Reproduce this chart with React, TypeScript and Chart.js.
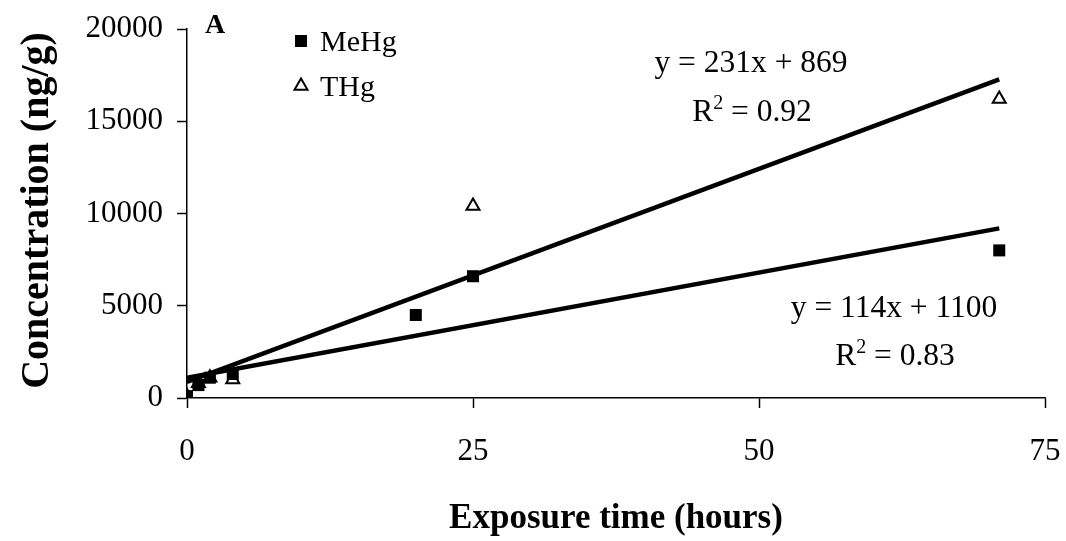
import { useEffect, useRef } from "react";
import { Chart, registerables } from "chart.js";

Chart.register(...registerables);

// Measured mercury concentrations (ng/g) against exposure time (hours)
const hoursMeHg = [0, 1, 2, 4, 20, 25, 71];
const concMeHg = [100, 700, 1100, 1300, 4500, 6600, 8000];
const hoursTHg = [0, 1, 2, 4, 25, 71];
const concTHg = [100, 800, 1100, 1000, 10400, 16200];

// Linear trendlines: y = slope * x + intercept, drawn over the measured span
const trendSlopes = [231, 114];
const trendIntercepts = [869, 1100];
const trendR2 = ["0.92", "0.83"];
const trendSpan = [0, 71];

const xTickValues = [0, 25, 50, 75];
const yTickValues = [0, 5000, 10000, 15000, 20000];

const SERIF = "'Liberation Serif', 'Times New Roman', serif";

function drawTriangle(ctx: CanvasRenderingContext2D, x: number, y: number, r: number) {
  ctx.beginPath();
  ctx.moveTo(x, y - r);
  ctx.lineTo(x + r * 0.866, y + r * 0.5);
  ctx.lineTo(x - r * 0.866, y + r * 0.5);
  ctx.closePath();
  ctx.fillStyle = "#fff";
  ctx.fill();
  ctx.lineWidth = 2;
  ctx.strokeStyle = "#000";
  ctx.stroke();
}

function drawR2(ctx: CanvasRenderingContext2D, cx: number, baseline: number, value: string) {
  const main = 31.5;
  const sup = 20;
  ctx.font = `${main}px ${SERIF}`;
  const wR = ctx.measureText("R").width;
  const rest = " = " + value;
  const wRest = ctx.measureText(rest).width;
  ctx.font = `${sup}px ${SERIF}`;
  const wSup = ctx.measureText("2").width;
  const total = wR + wSup + wRest;
  let x = cx - total / 2;
  ctx.textAlign = "left";
  ctx.font = `${main}px ${SERIF}`;
  ctx.fillText("R", x, baseline);
  x += wR;
  ctx.font = `${sup}px ${SERIF}`;
  ctx.fillText("2", x, baseline - 12);
  x += wSup;
  ctx.font = `${main}px ${SERIF}`;
  ctx.fillText(rest, x, baseline);
}

const annotations = {
  id: "annotations",
  beforeDraw(chart: Chart) {
    const { ctx, width, height } = chart;
    ctx.save();
    ctx.fillStyle = "#fff";
    ctx.fillRect(0, 0, width, height);
    ctx.restore();
  },
  afterDraw(chart: Chart) {
    const { ctx, chartArea } = chart;
    ctx.save();
    ctx.fillStyle = "#000";
    ctx.textBaseline = "alphabetic";

    // Panel letter
    ctx.font = `bold 28px ${SERIF}`;
    ctx.textAlign = "left";
    ctx.fillText("A", 205, 33);

    // Legend
    ctx.fillRect(295, 35, 12, 12);
    drawTriangle(ctx, 301, 86, 7.5);
    ctx.fillStyle = "#000";
    ctx.font = `30px ${SERIF}`;
    ctx.textAlign = "left";
    ctx.fillText("MeHg", 320, 51);
    ctx.fillText("THg", 320, 96);

    // Trendline equations
    const eqPos = [
      { cx: 751, base: 72, r2base: 121 },
      { cx: 894, base: 317, r2base: 365 },
    ];
    trendSlopes.forEach((slope, i) => {
      const p = eqPos[i];
      ctx.font = `31.5px ${SERIF}`;
      ctx.textAlign = "center";
      ctx.fillText(`y = ${slope}x + ${trendIntercepts[i]}`, p.cx, p.base);
      drawR2(ctx, p.cx + 1, p.r2base, trendR2[i]);
    });

    // Axis titles
    ctx.font = `bold 35px ${SERIF}`;
    ctx.textAlign = "center";
    ctx.fillText("Exposure time (hours)", (chartArea.left + chartArea.right) / 2, 528);

    ctx.save();
    ctx.translate(48, (chartArea.top + chartArea.bottom) / 2 - 3);
    ctx.rotate(-Math.PI / 2);
    ctx.font = `bold 40px ${SERIF}`;
    ctx.textAlign = "center";
    ctx.fillText("Concentration (ng/g)", 0, 0);
    ctx.restore();

    ctx.restore();
  },
};

export default function App() {
  const canvasRef = useRef<HTMLCanvasElement | null>(null);

  useEffect(() => {
    const canvas = canvasRef.current;
    if (!canvas) return;

    const trendData = trendSlopes.map((slope, i) =>
      trendSpan.map((x) => ({ x, y: slope * x + trendIntercepts[i] }))
    );

    const axisGrid = {
      display: true,
      drawOnChartArea: false,
      drawTicks: true,
      tickLength: 10,
      tickWidth: 1.5,
      tickColor: "#000",
    };

    const chart = new Chart(canvas, {
      type: "scatter",
      data: {
        datasets: [
          ...trendData.map((pts, i) => ({
            type: "line" as const,
            label: `trend${i}`,
            data: pts,
            borderColor: "#000",
            borderWidth: 4.5,
            pointRadius: 0,
            fill: false,
            order: 0,
          })),
          {
            label: "MeHg",
            data: hoursMeHg.map((x, i) => ({ x, y: concMeHg[i] })),
            pointStyle: "rect",
            pointRadius: 8.5,
            backgroundColor: "#000",
            borderColor: "#000",
            borderWidth: 0,
            order: 1,
          },
          {
            label: "THg",
            data: hoursTHg.map((x, i) => ({ x, y: concTHg[i] })),
            pointStyle: "triangle",
            pointRadius: 7.5,
            backgroundColor: "#fff",
            borderColor: "#000",
            borderWidth: 2,
            order: 2,
          },
        ],
      },
      options: {
        responsive: false,
        animation: false,
        devicePixelRatio: 1,
        layout: { padding: { top: 29, right: 21, left: 0, bottom: 0 } },
        plugins: {
          legend: { display: false },
          tooltip: { enabled: false },
        },
        scales: {
          x: {
            type: "linear",
            min: 0,
            max: 75,
            afterBuildTicks: (scale: any) => {
              scale.ticks = xTickValues.map((value) => ({ value }));
            },
            afterFit: (scale: any) => {
              scale.height = 143;
              scale.paddingLeft = 0;
              scale.paddingRight = 0;
            },
            ticks: {
              color: "#000",
              font: { family: SERIF, size: 31 },
              padding: 25,
              maxRotation: 0,
              callback: (v: any) => String(v),
            },
            grid: axisGrid,
            border: { display: true, color: "#000", width: 1.5 },
          },
          y: {
            type: "linear",
            min: 0,
            max: 20000,
            afterBuildTicks: (scale: any) => {
              scale.ticks = yTickValues.map((value) => ({ value }));
            },
            afterFit: (scale: any) => {
              scale.width = 187;
              scale.paddingTop = 0;
              scale.paddingBottom = 0;
            },
            ticks: {
              color: "#000",
              font: { family: SERIF, size: 31 },
              padding: 14,
              callback: (v: any) => String(v),
            },
            grid: axisGrid,
            border: { display: true, color: "#000", width: 1.5 },
          },
        },
      },
      plugins: [annotations],
    });

    return () => chart.destroy();
  }, []);

  return (
    <div style={{ position: "fixed", left: 0, top: 0, width: 1066, height: 541, background: "#fff" }}>
      <canvas ref={canvasRef} width={1066} height={541} />
    </div>
  );
}
